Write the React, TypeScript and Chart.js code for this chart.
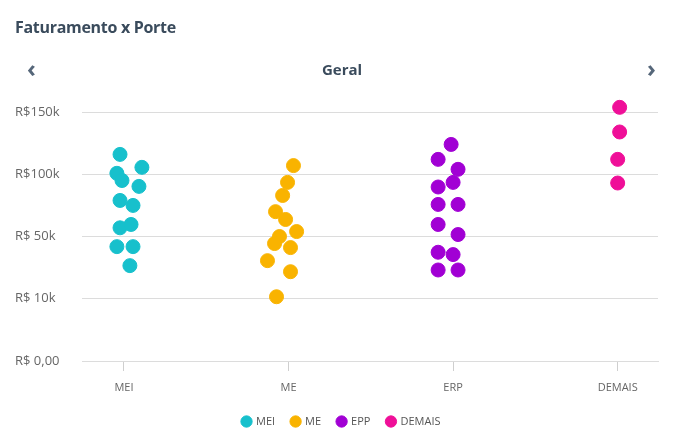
import React, { useEffect, useRef } from "react";
import { Chart, registerables } from "chart.js";
Chart.register(...registerables);

const categories = ["MEI", "ME", "ERP", "DEMAIS"];
const seriesNames = ["MEI", "ME", "EPP", "DEMAIS"];
const seriesColors = ["#17C0CC", "#F9B300", "#A100D4", "#EF0F98"];
const yTickValues = [0, 10000, 50000, 100000, 150000];
const yTickLabels = ["R$ 0,00", "R$ 10k", "R$ 50k", "R$100k", "R$150k"];

const meiValues = [116000, 105600, 100800, 95000, 90300, 79000, 75000, 57000, 59700, 43500, 43500, 31300];
const meiJitter = [-0.024, 0.109, -0.043, -0.012, 0.091, -0.024, 0.055, -0.024, 0.043, -0.043, 0.055, 0.036];
const meValues = [107000, 93500, 83000, 70000, 63700, 54000, 50000, 45500, 42900, 34500, 27400, 11300];
const meJitter = [0.03, -0.006, -0.036, -0.079, -0.018, 0.049, -0.055, -0.085, 0.012, -0.128, 0.012, -0.073];
const eppValues = [124000, 112000, 104000, 93500, 89800, 75800, 75800, 59700, 51600, 39900, 38400, 28500, 28500];
const eppJitter = [-0.012, -0.091, 0.03, 0, -0.091, -0.091, 0.03, -0.091, 0.03, -0.091, 0, -0.091, 0.03];
const demaisValues = [153800, 134000, 112000, 93000];
const demaisJitter = [0.012, 0.012, 0, 0];

const seriesValues = [meiValues, meValues, eppValues, demaisValues];
const seriesJitter = [meiJitter, meJitter, eppJitter, demaisJitter];

// The value axis is drawn with evenly spaced ticks (non-linear money steps).
function toAxis(v: number): number {
  const t = yTickValues;
  for (let i = 0; i < t.length - 1; i++) {
    if (v <= t[i + 1]) return i + (v - t[i]) / (t[i + 1] - t[i]);
  }
  const n = t.length - 1;
  return n + (v - t[n]) / (t[n] - t[n - 1]);
}

const legendShift = {
  id: "legendShift",
  afterUpdate(chart: any) {
    const lg = chart.legend;
    if (lg) {
      lg.left += 5;
      lg.right += 5;
    }
  },
};

export default function App() {
  const ref = useRef<HTMLCanvasElement | null>(null);
  useEffect(() => {
    if (!ref.current) return;
    const font = "'Open Sans', sans-serif";
    const datasets = seriesNames.map((name, s) => ({
      label: name,
      data: seriesValues[s].map((v, i) => ({ x: s + seriesJitter[s][i], y: toAxis(v) })),
      backgroundColor: seriesColors[s],
      borderColor: seriesColors[s],
      borderWidth: 1,
      pointRadius: 7,
      pointHoverRadius: 7,
      clip: false as any,
    }));
    const chart = new Chart(ref.current, {
      type: "scatter",
      data: { datasets },
      plugins: [legendShift],
      options: {
        animation: false,
        responsive: false,
        layout: { padding: { top: 93.4, left: 15, right: 30, bottom: 6 } },
        plugins: {
          tooltip: { enabled: false },
          legend: {
            position: "bottom",
            labels: {
              usePointStyle: true,
              pointStyle: "circle",
              boxWidth: 8,
              boxHeight: 8,
              padding: 16.5,
              color: "#555",
              font: { family: font, size: 11 },
            },
          },
        },
        scales: {
          x: {
            type: "linear",
            min: -0.255,
            max: 3.245,
            afterBuildTicks: (scale: any) => {
              scale.ticks = categories.map((_, i) => ({ value: i }));
            },
            afterFit: (scale: any) => {
              scale.height = 38.5;
            },
            ticks: {
              callback: (v: any) => categories[Math.round(Number(v))] ?? "",
              color: "#666",
              padding: 10,
              maxRotation: 0,
              font: { family: font, size: 11 },
            },
            grid: { drawOnChartArea: false, tickLength: 10, color: "#cfcfcf" },
            border: { display: true, color: "#dcdcdc" },
          },
          y: {
            type: "linear",
            min: 0,
            max: 4.3,
            afterBuildTicks: (scale: any) => {
              scale.ticks = yTickLabels.map((_, i) => ({ value: i }));
            },
            afterFit: (scale: any) => {
              scale.width = 67;
            },
            ticks: {
              callback: (v: any) => yTickLabels[Math.round(Number(v))] ?? "",
              color: "#666",
              crossAlign: "far",
              font: { family: font, size: 13 },
            },
            grid: { color: "#dcdcdc", drawTicks: false },
            border: { display: false },
          },
        },
      } as any,
    });
    return () => chart.destroy();
  }, []);

  const dark = "#3a4b5c";
  return (
    <div style={{ position: "fixed", left: 0, top: 0, width: 688, height: 443, background: "#fff", fontFamily: "'Open Sans', sans-serif" }}>
      <canvas ref={ref} width={688} height={443} style={{ position: "absolute", left: 0, top: 0, width: 688, height: 443 }} />
      <div style={{ position: "absolute", left: 15, top: 16, fontSize: 16, lineHeight: "22px", fontWeight: 700, color: dark, letterSpacing: -0.3 }}>
        Faturamento x Porte
      </div>
      <div style={{ position: "absolute", left: 0, width: 688, top: 58, textAlign: "center", fontSize: 15, lineHeight: "22px", fontWeight: 700, color: dark }}>
        <span style={{ position: "relative", left: -2 }}>Geral</span>
      </div>
      <div style={{ position: "absolute", left: 27, top: 54, fontSize: 24, lineHeight: "28px", fontWeight: 700, color: "#56677a" }}>‹</div>
      <div style={{ position: "absolute", left: 647, top: 54, fontSize: 24, lineHeight: "28px", fontWeight: 700, color: "#56677a" }}>›</div>
    </div>
  );
}
